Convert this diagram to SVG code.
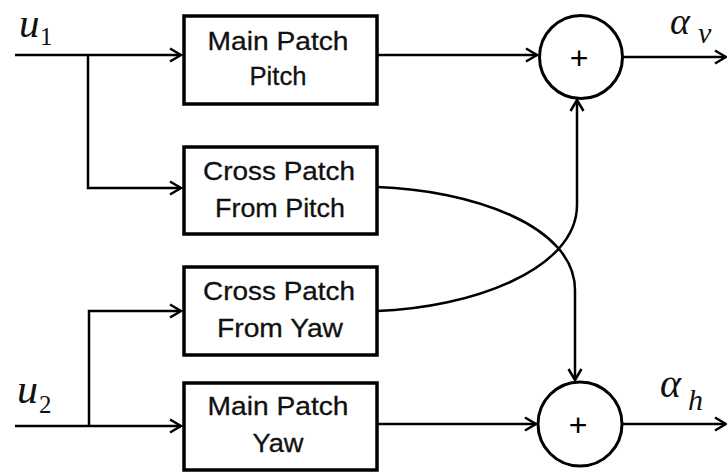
<svg xmlns="http://www.w3.org/2000/svg" width="727" height="476" viewBox="0 0 727 476">
<defs>
<marker id="arr" viewBox="-13 -8 15 16" refX="0" refY="0" markerWidth="15" markerHeight="16" markerUnits="userSpaceOnUse" orient="auto">
<path d="M-11,-6.5 L0,0 L-11,6.5" fill="none" stroke="#000" stroke-width="2.5"/>
</marker>
</defs>
<style>
.box{fill:#fff;stroke:#000;stroke-width:3.5}
.sum{fill:#fff;stroke:#000;stroke-width:3}
.lbl{font-family:"Liberation Sans",Arial,sans-serif;font-size:26px;fill:#111;text-anchor:middle;stroke:#111;stroke-width:0.3}
.plus{font-family:"Liberation Sans",Arial,sans-serif;font-size:32px;fill:#000;text-anchor:middle}
.math{font-family:"Liberation Serif","Times New Roman",serif;font-style:italic;fill:#111}
.sub{font-family:"Liberation Serif","Times New Roman",serif;fill:#111}
.wire{fill:none;stroke:#000;stroke-width:2.5}
</style>
<g id="connectors">
<path class="wire" d="M15,55 H181" marker-end="url(#arr)"/>
<path class="wire" d="M88,55 V188 H181" marker-end="url(#arr)"/>
<path class="wire" d="M15,426 H181" marker-end="url(#arr)"/>
<path class="wire" d="M89,426 V311 H181" marker-end="url(#arr)"/>
<path class="wire" d="M377,55 H537" marker-end="url(#arr)"/>
<path class="wire" d="M377,424 H536" marker-end="url(#arr)"/>
<path class="wire" d="M623,57 H726" marker-end="url(#arr)"/>
<path class="wire" d="M622,424 H726" marker-end="url(#arr)"/>
<path class="wire" d="M377,187 C470,190 575,225 575,290 V380" marker-end="url(#arr)"/>
<path class="wire" d="M377,311 C470,308 577,270 577,205 V100" marker-end="url(#arr)"/>
</g>
<g id="main-pitch">
<rect class="box" x="184" y="16" width="193" height="88"/>
<text class="lbl" x="278" y="50" textLength="141" lengthAdjust="spacingAndGlyphs">Main Patch</text>
<text class="lbl" x="278" y="85" textLength="57" lengthAdjust="spacingAndGlyphs">Pitch</text>
</g>
<g id="cross-pitch">
<rect class="box" x="184" y="147" width="193" height="87"/>
<text class="lbl" x="279" y="180" textLength="152" lengthAdjust="spacingAndGlyphs">Cross Patch</text>
<text class="lbl" x="280" y="217" textLength="130" lengthAdjust="spacingAndGlyphs">From Pitch</text>
</g>
<g id="cross-yaw">
<rect class="box" x="184" y="267" width="193" height="88"/>
<text class="lbl" x="279" y="300" textLength="152" lengthAdjust="spacingAndGlyphs">Cross Patch</text>
<text class="lbl" x="280" y="337" textLength="126" lengthAdjust="spacingAndGlyphs">From Yaw</text>
</g>
<g id="main-yaw">
<rect class="box" x="184" y="383" width="193" height="87"/>
<text class="lbl" x="278" y="415" textLength="141" lengthAdjust="spacingAndGlyphs">Main Patch</text>
<text class="lbl" x="278" y="452" textLength="51" lengthAdjust="spacingAndGlyphs">Yaw</text>
</g>
<g id="sum-v">
<circle class="sum" cx="581" cy="57" r="41.5"/>
<text class="plus" x="579" y="69">+</text>
</g>
<g id="sum-h">
<circle class="sum" cx="580" cy="424" r="42"/>
<text class="plus" x="578" y="436">+</text>
</g>
<g id="label-u1">
<text class="math" x="19" y="37" font-size="41">u</text>
<text class="sub" x="40" y="45" font-size="25">1</text>
</g>
<g id="label-u2">
<text class="math" x="17" y="403" font-size="42">u</text>
<text class="sub" x="39" y="413" font-size="25">2</text>
</g>
<g id="label-av">
<text class="math" x="670" y="34" font-size="38">α</text>
<text class="math" x="698" y="43" font-size="30">v</text>
</g>
<g id="label-ah">
<text class="math" x="660" y="397" font-size="40">α</text>
<text class="math" x="688" y="410" font-size="30">h</text>
</g>
</svg>
